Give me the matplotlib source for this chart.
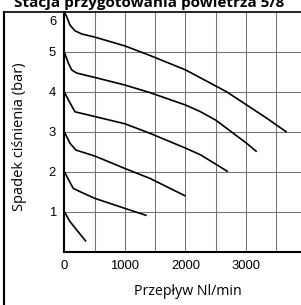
import matplotlib
matplotlib.use("Agg")
import matplotlib.pyplot as plt
import matplotlib.transforms as mtransforms
from matplotlib.lines import Line2D

# przeplyw [Nl/min] -> spadek cisnienia [bar]
flow_6 = [0, 40, 94, 176, 287, 506, 1000, 1415, 2000, 2680, 3010, 3340, 3670]
dp_6 = [6.0, 5.88, 5.67, 5.53, 5.45, 5.37, 5.15, 4.91, 4.55, 4.0, 3.67, 3.34, 2.99]

flow_5 = [0, 66, 122, 204, 506, 1000, 1415, 2000, 2250, 2500, 2790, 3010, 3175]
dp_5 = [5.0, 4.72, 4.55, 4.47, 4.36, 4.17, 3.98, 3.67, 3.50, 3.29, 2.96, 2.71, 2.50]

flow_4 = [0, 66, 176, 506, 1000, 1415, 2000, 2250, 2700]
dp_4 = [4.0, 3.80, 3.50, 3.38, 3.20, 2.96, 2.59, 2.42, 2.0]

flow_3 = [0, 94, 193, 506, 1000, 1415, 2000]
dp_3 = [3.0, 2.71, 2.54, 2.39, 2.08, 1.83, 1.39]

flow_2 = [0, 148, 258, 506, 1000, 1360]
dp_2 = [2.0, 1.58, 1.50, 1.33, 1.08, 0.90]

flow_1 = [0, 94, 204, 360]
dp_1 = [1.0, 0.75, 0.54, 0.25]

curves = [(flow_1, dp_1), (flow_2, dp_2), (flow_3, dp_3),
          (flow_4, dp_4), (flow_5, dp_5), (flow_6, dp_6)]

x_ticks = [0, 1000, 2000, 3000]
x_grid = [500, 1000, 1500, 2000, 2500, 3000, 3500]
y_ticks = [1, 2, 3, 4, 5]
y_grid = [1, 2, 3, 4, 5]
y_top = 6

title = "Stacja przygotowania powietrza 5/8"
x_label = "Przepływ Nl/min"
y_label = "Spadek ciśnienia (bar)"

W, H = 301, 305
fig = plt.figure(figsize=(W / 100, H / 100), dpi=100)
ax = fig.add_axes([64.3 / W, 53.5 / H, 1 - 64.3 / W, (251.5 - 12) / H])

for xg in x_grid:
    ax.axvline(xg, color="0.45", lw=0.75, zorder=1)
for yg in y_grid:
    ax.axhline(yg, color="0.45", lw=0.75, zorder=1)

for fx, dy in curves:
    ax.plot(fx, dy, color="black", lw=1.2, zorder=3, solid_capstyle="butt")

ax.set_xlim(0, (W - 64.3) / 60.6 * 1000)
ax.set_ylim(0, y_top)

for side in ["top", "right"]:
    ax.spines[side].set_visible(False)
ax.spines["left"].set_linewidth(1.5)
ax.spines["bottom"].set_linewidth(1.5)

ax.set_xticks(x_ticks)
ax.set_xticklabels([str(v) for v in x_ticks], family="Liberation Sans", fontsize=9.4)
ax.set_yticks(y_ticks)
ax.set_yticklabels([str(v) for v in y_ticks], family="Liberation Sans", fontsize=9.4)
ax.tick_params(length=0, pad=6)
# etykieta "6" lezy nieco nizej niz gorna linia
off = mtransforms.ScaledTranslation(-8 / 100, -4 / 100, fig.dpi_scale_trans)
ax.text(0, y_top, str(y_top), transform=ax.transData + off, ha="right", va="top",
        family="Liberation Sans", fontsize=9.4)

ax.set_xlabel(x_label, family="Open Sans", fontsize=10.2)
ax.xaxis.set_label_coords((188 - 64.3) / (W - 64.3), -0.135)
ax.set_ylabel(y_label, family="Open Sans", fontsize=10.5)
ax.yaxis.set_label_coords(-(64.3 - 27) / (W - 64.3), 0.48)

# ramka: linia u gory i po lewej
fig.add_artist(Line2D([3.5 / W, 1], [1 - 11.5 / H, 1 - 11.5 / H], color="black", lw=1.2))
fig.add_artist(Line2D([3.5 / W, 3.5 / W], [0, 1 - 11.5 / H], color="black", lw=1.5))

# tytul jest przyciety u gory, jak w oryginale
fig.text(149 / W, 1 - 7 / H, title, ha="center", va="baseline",
         family="Open Sans", fontweight="bold", fontsize=11)

fig.savefig("out.png", dpi=100)
